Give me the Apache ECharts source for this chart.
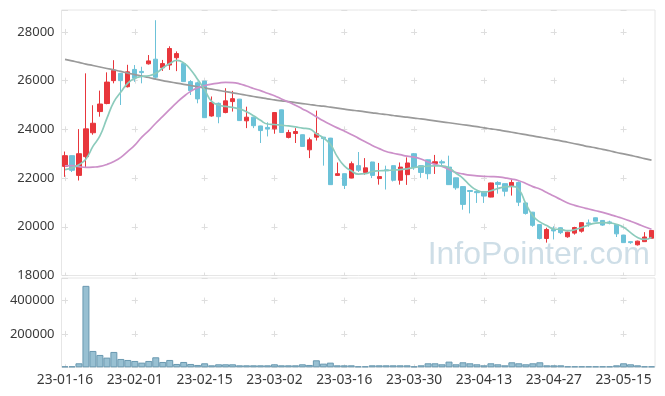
<!DOCTYPE html>
<html><head><meta charset="utf-8">
<script src="https://cdn.jsdelivr.net/npm/echarts@6/dist/echarts.min.js"></script>
<style>html,body{margin:0;padding:0;background:#fff}#c{width:665px;height:396px}</style>
</head><body><div id="c"></div>
<script>
const dates = ['23-01-16','23-01-17','23-01-18','23-01-19','23-01-20','23-01-25','23-01-26','23-01-27','23-01-30','23-01-31',
'23-02-01','23-02-02','23-02-03','23-02-06','23-02-07','23-02-08','23-02-09','23-02-10','23-02-13','23-02-14',
'23-02-15','23-02-16','23-02-17','23-02-20','23-02-21','23-02-22','23-02-23','23-02-24','23-02-27','23-02-28',
'23-03-02','23-03-03','23-03-06','23-03-07','23-03-08','23-03-09','23-03-10','23-03-13','23-03-14','23-03-15',
'23-03-16','23-03-17','23-03-20','23-03-21','23-03-22','23-03-23','23-03-24','23-03-27','23-03-28','23-03-29',
'23-03-30','23-03-31','23-04-03','23-04-04','23-04-05','23-04-06','23-04-07','23-04-10','23-04-11','23-04-12',
'23-04-13','23-04-14','23-04-17','23-04-18','23-04-19','23-04-20','23-04-21','23-04-24','23-04-25','23-04-26',
'23-04-27','23-04-28','23-05-02','23-05-03','23-05-04','23-05-08','23-05-09','23-05-10','23-05-11','23-05-12',
'23-05-15','23-05-16','23-05-17','23-05-18','23-05-19'];

const opens = [22480,22920,22110,22880,23860,24730,25060,26000,26300,25750,
26460,26380,26690,26880,26530,26640,26940,26700,25960,25910,
25980,24550,25070,24690,25140,25240,24350,24500,24140,24080,
24020,24800,23670,23830,23780,23160,23680,23680,23640,22110,
22180,22000,22510,22230,22660,21980,22340,22510,21910,22140,
23000,22510,22750,22600,22670,22450,22010,21650,21490,21450,
21450,21220,21820,21770,21660,21820,20980,20600,20090,19520,
19890,19960,19590,19740,19820,20160,20370,20260,20200,20090,
19660,19390,19260,19390,19530];
const closes = [22920,22320,23000,24020,24250,25040,25940,26420,26000,26360,
26100,26330,26810,26140,26700,27320,27110,25960,25590,25250,
24480,25100,24520,25170,25260,24360,24500,24150,23950,24010,
24690,23870,23870,23910,23300,23570,23820,23620,21730,22180,
21700,22590,22320,22420,22110,22060,22300,21910,22450,22620,
22440,22230,22180,22670,22620,21730,21600,20920,21450,21400,
21260,21800,21740,21460,21820,21010,20550,20060,19520,19890,
19830,19760,19780,19970,20170,20120,20230,20070,20150,19710,
19350,19350,19410,19580,19850];
const lows = [22050,22250,21900,22440,23780,24520,25030,25890,25000,25720,
25950,25890,26660,26070,26400,26440,26390,25950,25410,25070,
24470,24520,24250,24660,24730,24350,24050,24050,23440,23710,
23820,23860,23630,23440,23290,22820,23540,22510,21720,22090,
21550,21990,22250,22140,22000,21730,21530,21860,21730,21720,
22340,22010,21950,22170,22480,21720,21520,20700,20550,20980,
20980,21210,21360,21250,21280,20850,20500,20000,19480,19350,
19480,19700,19550,19680,19760,20000,20220,20040,20100,19580,
19340,19300,19230,19380,19520];
const highs = [23090,22930,24010,26300,24990,25590,26340,26840,26310,26650,
26640,26570,27050,28480,26850,27410,27200,26700,26020,25960,
25990,25350,25100,25690,25580,25250,24930,24510,24150,24290,
24700,24810,23980,24050,23790,23660,24770,23690,23650,22640,
22190,22680,23070,22820,22670,22620,22510,22520,22640,22850,
23030,22520,22760,22950,22750,22920,22020,21660,21500,21480,
21460,21810,21870,21780,21960,21860,20990,20610,20100,19960,
20020,19980,19800,20000,20180,20300,20380,20270,20250,20100,
19670,19400,19430,19780,19860];

const volumes = [6000,6000,24000,488000,98000,74000,58000,92000,50000,44000,
38000,28000,38000,60000,32000,44000,20000,32000,20000,14000,
24000,12000,18000,18000,18000,12000,12000,12000,12000,12000,
18000,12000,12000,12000,18000,14000,42000,22000,28000,12000,
12000,12000,6000,6000,12000,12000,12000,12000,12000,12000,
6000,12000,24000,24000,18000,34000,18000,30000,24000,18000,
12000,24000,18000,12000,30000,24000,18000,24000,30000,12000,
12000,12000,6000,6000,6000,6000,6000,6000,6000,12000,
24000,18000,12000,6000,6000];

const ma5 = [22350,22420,22550,22780,23300,23730,24450,25130,25530,25900,
26100,26170,26200,26300,26520,26700,26830,26730,26450,26050,
25620,25150,25000,24940,24900,24840,24720,24560,24370,24220,
24200,24170,24140,24100,24050,24020,23820,23650,23390,22880,
22500,22300,22160,22180,22270,22300,22310,22330,22350,22380,
22430,22470,22490,22500,22500,22420,22200,21990,21700,21500,
21420,21480,21570,21640,21660,21530,20950,20450,20200,20050,
19910,19890,19840,19880,19970,20080,20150,20170,20160,20100,
19980,19760,19560,19480,19560];
const ma20 = [22500,22510,22470,22440,22450,22480,22560,22680,22850,23100,
23350,23680,23950,24250,24530,24820,25100,25350,25560,25710,
25800,25860,25900,25930,25920,25870,25780,25680,25590,25480,
25380,25250,25120,24990,24840,24690,24520,24350,24200,24060,
23930,23790,23640,23490,23340,23210,23090,23020,22960,22900,
22860,22780,22660,22560,22480,22350,22230,22170,22120,22090,
22070,22060,22050,22010,21960,21890,21780,21650,21550,21410,
21260,21120,20980,20880,20800,20730,20660,20590,20510,20420,
20330,20230,20120,20000,19900];
const maLong = [26870,26810,26750,26680,26620,26560,26500,26440,26380,26310,
26250,26190,26130,26060,26000,25950,25900,25850,25800,25750,
25700,25650,25600,25550,25500,25450,25400,25350,25300,25250,
25210,25170,25140,25100,25060,25020,24980,24950,24910,24870,
24830,24790,24760,24720,24680,24640,24610,24570,24530,24500,
24460,24430,24390,24350,24310,24270,24230,24190,24150,24110,
24060,24020,23980,23930,23880,23830,23780,23730,23680,23630,
23580,23530,23470,23410,23350,23290,23240,23180,23120,23050,
22990,22930,22870,22800,22740];

const priceTicks = {min: 18000, max: 28900, interval: 2000, firstTick: 28000};
const volTicks = {min: 0, max: 535000, interval: 200000, firstTick: 400000};

// layout
const L = 61.5, R = 10, W = 665 - L - R;
const mainTop = 10, mainH = 265.5;
const volTop = 278, volH = 89.3;
const labelEvery = 10;
const catW = W / dates.length;
const stepX = catW * labelEvery;
const dashLen = 6;
function offs(start, period){ return ((period - (start % period)) % period + period) % period; }
const hDashOffset = offs(catW/2 - dashLen/2, stepX);
function vDash(t, h){
  const px = h * t.interval / (t.max - t.min);
  const first = (t.max - t.firstTick) / (t.max - t.min) * h;
  return {type:[dashLen, px - dashLen], dashOffset: offs(first - dashLen/2, px)};
}
const vMain = vDash(priceTicks, mainH), vVol = vDash(volTicks, volH);
const plusColor = '#dedede';
const labelFont = {fontFamily:'Noto Sans', fontSize:13, color:'#3a3a3a'};
const plain = v => String(v);

const candleData = dates.map((d,i)=>[opens[i], closes[i], lows[i], highs[i]]);

const chart = echarts.init(document.getElementById('c'), null, {renderer:'canvas'});
chart.setOption({
  animation:false,
  backgroundColor:'#fff',
  grid:[
    {left:L, width:W, top:mainTop, height:mainH, show:true, borderColor:'#e6e6e6', borderWidth:1},
    {left:L, width:W, top:volTop, height:volH, show:true, borderColor:'#e6e6e6', borderWidth:1}
  ],
  xAxis:[
    {type:'category', gridIndex:0, data:dates, boundaryGap:true,
     axisLine:{show:false}, axisTick:{show:false}, axisLabel:{show:false},
     splitLine:{show:true, interval:labelEvery-1, alignWithLabel:true,
       lineStyle:{color:plusColor, width:1, type:vMain.type, dashOffset:vMain.dashOffset}}},
    {type:'category', gridIndex:1, data:dates, boundaryGap:true,
     axisLine:{show:false}, axisTick:{show:false},
     axisLabel:Object.assign({interval:labelEvery-1, margin:6}, labelFont, {fontSize:13.8}),
     splitLine:{show:true, interval:labelEvery-1, alignWithLabel:true,
       lineStyle:{color:plusColor, width:1, type:vVol.type, dashOffset:vVol.dashOffset}}}
  ],
  yAxis:[
    {type:'value', gridIndex:0, min:priceTicks.min, max:priceTicks.max, interval:priceTicks.interval,
     axisLine:{show:false}, axisTick:{show:false},
     axisLabel:Object.assign({showMaxLabel:false, margin:7, formatter:plain}, labelFont),
     splitLine:{show:true, lineStyle:{color:plusColor, width:1, type:[dashLen, stepX-dashLen], dashOffset:hDashOffset}}},
    {type:'value', gridIndex:1, min:volTicks.min, max:volTicks.max, interval:volTicks.interval,
     axisLine:{show:false}, axisTick:{show:false},
     axisLabel:Object.assign({showMaxLabel:false, showMinLabel:false, margin:7, formatter:plain}, labelFont),
     splitLine:{show:true, lineStyle:{color:plusColor, width:1, type:[dashLen, stepX-dashLen], dashOffset:hDashOffset}}}
  ],
  graphic:[{type:'text', right:15, top:239, z:1, silent:true,
    style:{text:'InfoPointer.com', font:'32px "Liberation Sans", Arial, sans-serif', fill:'rgba(165,195,212,0.55)'}}],
  series:[
    {type:'candlestick', xAxisIndex:0, yAxisIndex:0, data:candleData, barWidth:'68%', z:3,
     itemStyle:{color:'#e8363c', color0:'#6cc2d8', borderColor:'#e8363c', borderColor0:'#6cc2d8', borderWidth:1}},
    {type:'line', xAxisIndex:0, yAxisIndex:0, data:maLong, smooth:true, showSymbol:false, z:4,
     lineStyle:{color:'#9a9a9a', width:1.7}},
    {type:'line', xAxisIndex:0, yAxisIndex:0, data:ma20, smooth:true, showSymbol:false, z:4,
     lineStyle:{color:'#cc90c9', width:1.7}},
    {type:'line', xAxisIndex:0, yAxisIndex:0, data:ma5, smooth:true, showSymbol:false, z:4,
     lineStyle:{color:'#8ccbbc', width:1.7}},
    {type:'bar', xAxisIndex:1, yAxisIndex:1, data:volumes, barCategoryGap:'0%',
     itemStyle:{color:'#98c0d2', borderColor:'#6998b0', borderWidth:1}}
  ]
});
</script></body></html>
